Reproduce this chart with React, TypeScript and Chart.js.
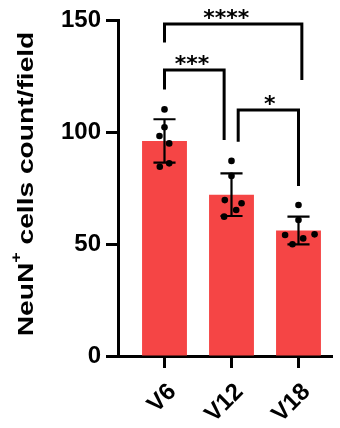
import React, { useEffect, useRef } from 'react';
import { Chart, registerables } from 'chart.js';

Chart.register(...registerables);

const categories = ['V6', 'V12', 'V18'];
const meanValues = [96, 72, 56];
const sdValues = [9.7, 9.5, 6.2];
const dotsV6 = [110.1, 102.1, 98.2, 94.9, 84.5, 86.0];
const dotsV12 = [87.1, 80.4, 69.6, 68.2, 65.2, 62.2];
const dotsV18 = [67.4, 60.7, 54.0, 54.3, 52.5, 49.9];
const jitterV6 = [0, 0, -0.075, 0.07, -0.07, 0.07];
const jitterV12 = [0, 0, -0.1, 0.15, 0.07, -0.11];
const jitterV18 = [0, 0, -0.2, 0.24, 0.07, -0.09];
const yTickValues = [0, 50, 100, 150];

const sigLabels = ['****', '***', '*'];
const sigFrom = [0, 0, 1.1];
const sigTo = [2.05, 0.89, 2.0];
const sigLevel = [148.2, 127.7, 109.8];
const sigFromEnd = [140, 119, 95.7];
const sigToEnd = [123.2, 96.4, 75.9];
const sigLabelX = [0.92, 0.41, 1.57];

const yTitleMain = 'NeuN';
const yTitleSup = '+';
const yTitleRest = ' cells count/field';

const BAR_COLOR = '#F54545';
const FONT = "'Liberation Sans', Arial, sans-serif";

const dotGroups = [dotsV6, dotsV12, dotsV18];
const jitterGroups = [jitterV6, jitterV12, jitterV18];

const errorBarPlugin = {
  id: 'errorBars',
  afterDatasetDraw(chart: any, args: any) {
    if (args.index !== 0) return;
    const ctx = chart.ctx;
    const xs = chart.scales.x;
    const ys = chart.scales.y;
    const unit = xs.getPixelForValue(1) - xs.getPixelForValue(0);
    const capHalf = unit * 0.165;
    ctx.save();
    ctx.strokeStyle = '#000';
    ctx.lineWidth = 2.2;
    meanValues.forEach((m, i) => {
      const x = xs.getPixelForValue(i);
      const yTop = ys.getPixelForValue(m + sdValues[i]);
      const yBot = ys.getPixelForValue(m - sdValues[i]);
      ctx.beginPath();
      ctx.moveTo(x, yTop);
      ctx.lineTo(x, yBot);
      ctx.moveTo(x - capHalf, yTop);
      ctx.lineTo(x + capHalf, yTop);
      ctx.moveTo(x - capHalf, yBot);
      ctx.lineTo(x + capHalf, yBot);
      ctx.stroke();
    });
    ctx.restore();
  },
};

const bracketPlugin = {
  id: 'brackets',
  afterDraw(chart: any) {
    const ctx = chart.ctx;
    const xs = chart.scales.x;
    const ys = chart.scales.y;
    ctx.save();
    ctx.strokeStyle = '#000';
    ctx.lineWidth = 3;
    ctx.lineJoin = 'miter';
    ctx.lineCap = 'butt';
    sigLabels.forEach((label, i) => {
      const x1 = xs.getPixelForValue(sigFrom[i]);
      const x2 = xs.getPixelForValue(sigTo[i]);
      const y = ys.getPixelForValue(sigLevel[i]);
      ctx.beginPath();
      ctx.moveTo(x1, ys.getPixelForValue(sigFromEnd[i]));
      ctx.lineTo(x1, y);
      ctx.lineTo(x2, y);
      ctx.lineTo(x2, ys.getPixelForValue(sigToEnd[i]));
      ctx.stroke();
      ctx.font = "bold 22px 'DejaVu Sans', sans-serif";
      ctx.fillStyle = '#000';
      ctx.textAlign = 'center';
      ctx.textBaseline = 'alphabetic';
      const m = ctx.measureText(label);
      const inkCenter = (m.actualBoundingBoxAscent - m.actualBoundingBoxDescent) / 2;
      ctx.fillText(label, xs.getPixelForValue(sigLabelX[i]), y - 10 + inkCenter);
    });
    ctx.restore();
  },
};

const yTitlePlugin = {
  id: 'yTitle',
  afterDraw(chart: any) {
    const ctx = chart.ctx;
    ctx.save();
    ctx.translate(25, 184);
    ctx.rotate(-Math.PI / 2);
    ctx.scale(1.28, 1);
    ctx.fillStyle = '#000';
    ctx.textBaseline = 'alphabetic';
    ctx.textAlign = 'left';
    const mainFont = `bold 22px ${FONT}`;
    const supFont = `bold 14px ${FONT}`;
    ctx.font = mainFont;
    const w1 = ctx.measureText(yTitleMain).width;
    const w3 = ctx.measureText(yTitleRest).width;
    ctx.font = supFont;
    const w2 = ctx.measureText(yTitleSup).width;
    const total = w1 + w2 + w3;
    let x = -total / 2;
    const base = 7.9;
    ctx.font = mainFont;
    ctx.fillText(yTitleMain, x, base);
    x += w1;
    ctx.font = supFont;
    ctx.fillText(yTitleSup, x, base - 12);
    x += w2;
    ctx.font = mainFont;
    ctx.fillText(yTitleRest, x, base);
    ctx.restore();
  },
};

export default function App() {
  const canvasRef = useRef<HTMLCanvasElement | null>(null);

  useEffect(() => {
    if (!canvasRef.current) return;
    const barData = meanValues.map((v, i) => ({ x: i, y: v }));
    const dotData: { x: number; y: number }[] = [];
    dotGroups.forEach((g, i) => {
      g.forEach((v, j) => dotData.push({ x: i + jitterGroups[i][j], y: v }));
    });

    const chart = new Chart(canvasRef.current, {
      type: 'bar',
      data: {
        datasets: [
          {
            type: 'bar',
            data: barData as any,
            backgroundColor: BAR_COLOR,
            borderWidth: 0,
            barPercentage: 1,
            categoryPercentage: 0.67,
            order: 1,
          } as any,
          {
            type: 'scatter',
            data: dotData as any,
            backgroundColor: '#000',
            borderWidth: 0,
            pointRadius: 3.3,
            order: 0,
          } as any,
        ],
      },
      options: {
        responsive: false,
        animation: false,
        devicePixelRatio: 1,
        layout: { padding: { top: 20, right: 8, left: 0, bottom: 0 } },
        plugins: {
          legend: { display: false },
          tooltip: { enabled: false },
        },
        scales: {
          x: {
            type: 'linear',
            min: -0.694,
            max: 2.5,
            offset: false,
            afterBuildTicks: (s: any) => {
              s.ticks = categories.map((_, i) => ({ value: i }));
            },
            afterFit: (s: any) => {
              s.height = 72;
            },
            grid: {
              display: true,
              offset: false,
              drawOnChartArea: false,
              drawTicks: true,
              tickLength: 12,
              tickWidth: 3,
              tickColor: '#000',
            },
            border: { display: true, width: 3, color: '#000' },
            ticks: {
              autoSkip: false,
              minRotation: 45,
              maxRotation: 45,
              padding: 10,
              labelOffset: 8,
              color: '#000',
              font: { family: FONT, size: 24, weight: 'bold' },
              callback: (v: any) => categories[Math.round(Number(v))] ?? '',
            },
          } as any,
          y: {
            type: 'linear',
            min: 0,
            max: 150,
            afterBuildTicks: (s: any) => {
              s.ticks = yTickValues.map((v) => ({ value: v }));
            },
            afterFit: (s: any) => {
              s.width = 118;
            },
            grid: {
              display: true,
              drawOnChartArea: false,
              drawTicks: true,
              tickLength: 12,
              tickWidth: 3,
              tickColor: '#000',
            },
            border: { display: true, width: 3, color: '#000' },
            ticks: {
              padding: 5,
              color: '#000',
              font: { family: FONT, size: 24, weight: 'bold' },
            },
          } as any,
        },
      },
      plugins: [errorBarPlugin, bracketPlugin, yTitlePlugin],
    });
    return () => chart.destroy();
  }, []);

  return (
    <div style={{ position: 'absolute', left: 0, top: 0, width: 340, height: 428, background: '#fff' }}>
      <canvas ref={canvasRef} width={340} height={428} style={{ display: 'block' }} />
    </div>
  );
}
